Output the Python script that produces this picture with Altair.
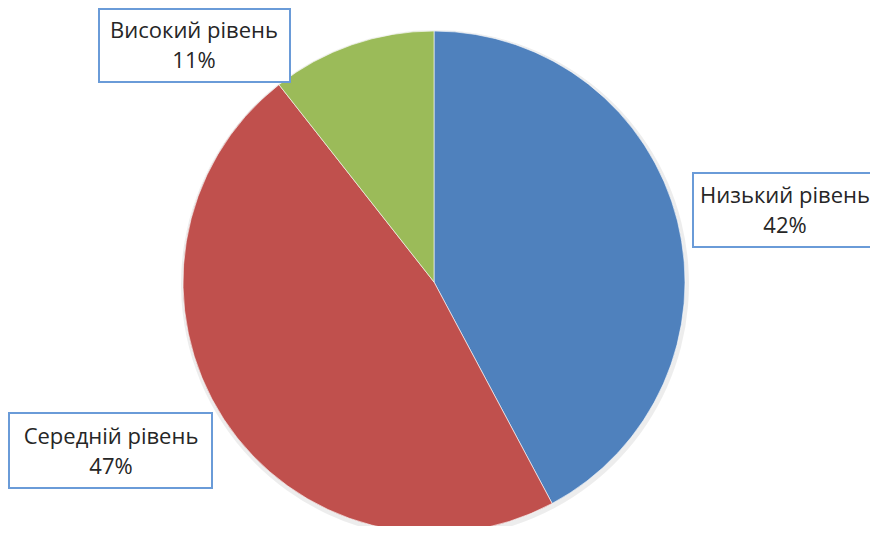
import altair as alt
import pandas as pd

categories = ["Низький рівень", "Середній рівень", "Високий рівень"]
values = [42.2, 47.2, 10.6]
pct_labels = ["42%", "47%", "11%"]
colors = ["#4f81bd", "#c0504d", "#9bbb59"]

# label box layout (chart pixel coords)
box_x = [685, 1, 91]
box_x2 = [872, 204, 282]
box_y = [165, 405, 1]
box_y2 = [239, 480, 74]
text_x = [777, 103, 186]
text_y = [188, 429, 23]

df = pd.DataFrame({
    "cat": categories,
    "val": values,
    "order": [0, 1, 2],
    "label": [f"{c}\n{p}" for c, p in zip(categories, pct_labels)],
    "bx": box_x, "bx2": box_x2, "by": box_y, "by2": box_y2,
    "tx": text_x, "ty": text_y,
})

CX, CY, R = 426, 274, 251

color_scale = alt.Scale(domain=categories, range=colors)

shadow = alt.Chart(df).mark_arc(radius=R + 3, color="#000000", opacity=0.07).encode(
    theta=alt.Theta("val:Q", stack=True),
    order=alt.Order("order:Q"),
    x=alt.value(CX + 1), y=alt.value(CY + 2),
)

pie = alt.Chart(df).mark_arc(radius=R, stroke="#ffffff", strokeWidth=0.6).encode(
    theta=alt.Theta("val:Q", stack=True),
    color=alt.Color("cat:N", scale=color_scale, legend=None),
    order=alt.Order("order:Q"),
    x=alt.value(CX), y=alt.value(CY),
)

boxes = alt.Chart(df).mark_rect(fill="#ffffff", stroke="#6a9bd8", strokeWidth=2).encode(
    x=alt.X("bx:Q", scale=None), x2="bx2:Q",
    y=alt.Y("by:Q", scale=None), y2="by2:Q",
)

texts = alt.Chart(df).mark_text(
    font="Open Sans", fontSize=22, color="#262626", lineBreak="\n",
    lineHeight=30, align="center", baseline="middle",
).encode(
    x=alt.X("tx:Q", scale=None), y=alt.Y("ty:Q", scale=None), text="label:N",
)

chart = alt.layer(shadow, pie, boxes, texts).properties(
    width=862, height=518, padding=0, autosize=alt.AutoSizeParams(type="none"),
).configure_view(strokeOpacity=0)

chart.save("out.html", embed_options={"renderer": "svg", "actions": False})
